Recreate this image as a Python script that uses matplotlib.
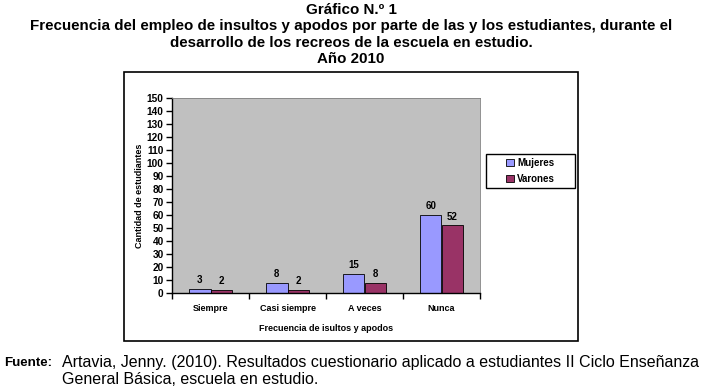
import matplotlib.pyplot as plt
import matplotlib.patches as mpatches
import numpy as np

plt.rcParams['font.family'] = ['Liberation Sans', 'DejaVu Sans']

# Datos
categorias = ['Siempre', 'Casi siempre', 'A veces', 'Nunca']
mujeres = [3, 8, 15, 60]
varones = [2, 2, 8, 52]
yticks = list(range(0, 151, 10))

W, H = 702, 391
fig = plt.figure(figsize=(W / 100, H / 100), dpi=100)

def fx(px):
    return px / W

def fy(py):
    return 1 - py / H

# Títulos
titulos = [
    ("Gráfico N.º 1", 10),
    ("Frecuencia del empleo de insultos y apodos por parte de las y los estudiantes, durante el", 26),
    ("desarrollo de los recreos de la escuela en estudio.", 43),
    ("Año 2010", 59),
]
for txt, y in titulos:
    fig.text(0.5, fy(y), txt, ha='center', va='center', fontsize=10.9, fontweight='bold')

# Marco del gráfico
fig.patches.append(mpatches.Rectangle((fx(124), fy(341)), fx(578) - fx(124), fy(72) - fy(341),
                                      transform=fig.transFigure, fill=False,
                                      edgecolor='black', linewidth=1.2))

ax = fig.add_axes([fx(172), fy(293), fx(480) - fx(172), fy(98) - fy(293)])
ax.set_facecolor('#C0C0C0')

x = np.arange(len(categorias))
w = 0.28
b1 = ax.bar(x - w / 2, mujeres, w, color='#9999FF', edgecolor='black', linewidth=0.6, label='Mujeres')
b2 = ax.bar(x + w / 2, varones, w, color='#993366', edgecolor='black', linewidth=0.6, label='Varones')

for barras, vals in [(b1, mujeres), (b2, varones)]:
    for r, v in zip(barras, vals):
        ax.text(r.get_x() + r.get_width() / 2, v + 3, str(v), ha='center', va='bottom',
                fontsize=7, fontweight='bold')

ax.set_xlim(-0.5, len(categorias) - 0.5)
ax.set_ylim(0, 150)
ax.set_yticks(yticks)
ax.set_yticklabels([str(t) for t in yticks], fontsize=7.3, fontweight='bold')
ax.set_xticks(np.arange(len(categorias) + 1) - 0.5)
ax.set_xticklabels([])
ax.set_xticks(x, minor=True)
ax.set_xticklabels(categorias, minor=True, fontsize=6.5, fontweight='bold')
ax.tick_params(axis='x', which='minor', length=0, pad=8)
ax.tick_params(axis='x', which='major', length=4, width=1, direction='out')
ax.tick_params(axis='y', length=4, width=1, direction='out', pad=2)

for s in ['top', 'right']:
    ax.spines[s].set_color('#808080')
    ax.spines[s].set_linewidth(0.6)
ax.spines['left'].set_linewidth(1)
ax.spines['bottom'].set_linewidth(1)

ax.set_ylabel('Cantidad de estudiantes', fontsize=6.5, fontweight='bold', labelpad=2)
ax.set_xlabel('Frecuencia de isultos y apodos', fontsize=6.5, fontweight='bold', labelpad=8)

# Leyenda (sin marco propio; el recuadro se dibuja aparte)
leg = fig.legend(handles=[b1, b2], loc='center', bbox_to_anchor=(fx(530.5), fy(171)),
                 frameon=False, prop={'weight': 'bold', 'size': 7},
                 handlelength=0.8, handleheight=0.8, handletextpad=0.3, labelspacing=0.6)
fig.patches.append(mpatches.Rectangle((fx(486), fy(188)), fx(575) - fx(486), fy(154) - fy(188),
                                      transform=fig.transFigure, fill=False,
                                      edgecolor='black', linewidth=1))

# Fuente
fig.text(fx(4), fy(363), 'Fuente:', ha='left', va='center', fontsize=9.6, fontweight='bold')
fig.text(fx(62), fy(363), 'Artavia, Jenny. (2010). Resultados cuestionario aplicado a estudiantes II Ciclo Enseñanza',
         ha='left', va='center', fontsize=11.5)
fig.text(fx(62), fy(380), 'General Básica, escuela en estudio.', ha='left', va='center', fontsize=11.5)

fig.savefig('out.png', dpi=100)
